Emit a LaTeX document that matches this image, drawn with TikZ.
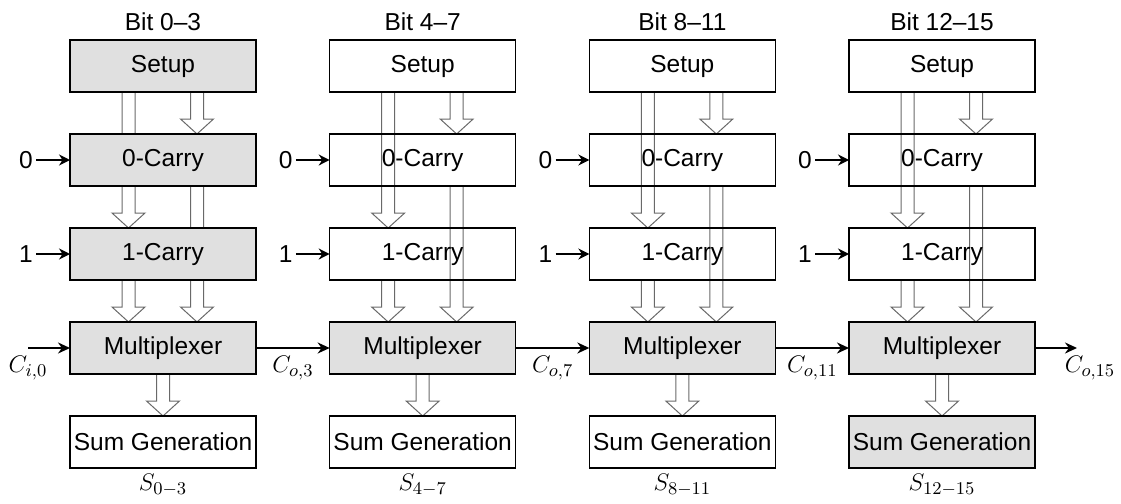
\documentclass[tikz,border=0pt]{standalone}
\usepackage{fontspec}
\setmainfont{Liberation Sans}
\usetikzlibrary{positioning,arrows.meta,calc,backgrounds}
\definecolor{boxgray}{RGB}{224,224,224}
\definecolor{arrgray}{RGB}{105,105,105}
\newcommand{\lblfont}{\fontsize{12.25}{14}\selectfont}
% hollow block arrow from #1 down to #2
\newcommand{\fatarrow}[2]{%
  \path[fatarr] let \p1=#1, \p2=#2 in
    (\x1-3.25pt,\y1) -- (\x1-3.25pt,\y2+7.5pt) -- (\x1-8.25pt,\y2+7.5pt)
    -- (\x1,\y2) -- (\x1+8.25pt,\y2+7.5pt) -- (\x1+3.25pt,\y2+7.5pt)
    -- (\x1+3.25pt,\y1);}
\tikzset{
  blk/.style={draw=black,line width=0.75pt,minimum width=93pt,
    minimum height=26pt,inner sep=1pt,outer sep=0pt},
  blkw/.style={blk},
  blkg/.style={blk,fill=boxgray},
  fatarr/.style={draw=arrgray,line width=0.5pt,fill=white,line join=miter},
  cin/.style={-{Stealth[length=5.5pt,width=5.5pt]},line width=1pt},
  chain/.style={-{Stealth[length=6pt,width=5.5pt]},line width=1.2pt},
  lbl/.style={inner sep=1.5pt},
}
\begin{document}
\begin{tikzpicture}[x=0.5pt,y=-0.5pt,every node/.style={font=\lblfont}]
  \useasboundingbox (0,0) rectangle (1121,504);
  \foreach \lo/\hi/\sa/\sb/\sc/\se [count=\c] in
    {0/3/blkg/blkg/blkg/blkw, 4/7/blkw/blkw/blkw/blkw,
     8/11/blkw/blkw/blkw/blkw, 12/15/blkw/blkw/blkw/blkg}
  {
    \pgfmathsetmacro{\cx}{163+259.67*(\c-1)}
    \node[\sa] (setup\c) at (\cx,66) {Setup};
    \node[\sb,below=21pt of setup\c] (zero\c) {0-Carry};
    \node[\sc,below=21pt of zero\c] (one\c) {1-Carry};
    \node[blkg,below=21pt of one\c] (mux\c) {Multiplexer};
    \node[\se,below=21pt of mux\c] (sum\c) {Sum Generation};
    \node[lbl,above=3pt of setup\c] (bit\c) {Bit \lo--\hi};
    \node[lbl,below=1.5pt of sum\c] (s\c) {$S_{\lo-\hi}$};
    \node[lbl] (inz\c) at ($(zero\c.west)+(-22pt,0)$) {0};
    \node[lbl] (ino\c) at ($(one\c.west)+(-22pt,0)$) {1};
    \draw[cin] (inz\c) -- (zero\c);
    \draw[cin] (ino\c) -- (one\c);
    \begin{pgfonlayer}{background}
      \fatarrow{($(setup\c.south west)+(29.25pt,0)$)}{($(one\c.north west)+(29.25pt,0)$)}
      \fatarrow{($(setup\c.south west)+(63.5pt,0)$)}{($(zero\c.north west)+(63.5pt,0)$)}
      \fatarrow{($(one\c.south west)+(29.25pt,0)$)}{($(mux\c.north west)+(29.25pt,0)$)}
      \fatarrow{($(zero\c.south west)+(63.5pt,0)$)}{($(mux\c.north west)+(63.5pt,0)$)}
      \fatarrow{(mux\c.south)}{(sum\c.north)}
    \end{pgfonlayer}
  }
  % carry chain
  \coordinate (cin) at ($(mux1.west)+(-21pt,0)$);
  \coordinate (cout) at ($(mux4.east)+(21pt,0)$);
  \draw[chain] (cin) -- (mux1);
  \foreach \a/\b in {1/2,2/3,3/4}
    \draw[chain] (mux\a) -- (mux\b);
  \draw[chain] (mux4) -- (cout);
  \node[lbl] (ci0) at ($(mux1.west)+(-21pt,-10pt)$) {$C_{i,0}$};
  \foreach \a/\k in {1/3,2/7,3/11}
    \node[lbl] (co\k) at ($(mux\a.east)+(18.5pt,-10pt)$) {$C_{o,\k}$};
  \node[lbl] (co15) at ($(mux4.east)+(27.5pt,-10pt)$) {$C_{o,15}$};
\end{tikzpicture}
\end{document}
